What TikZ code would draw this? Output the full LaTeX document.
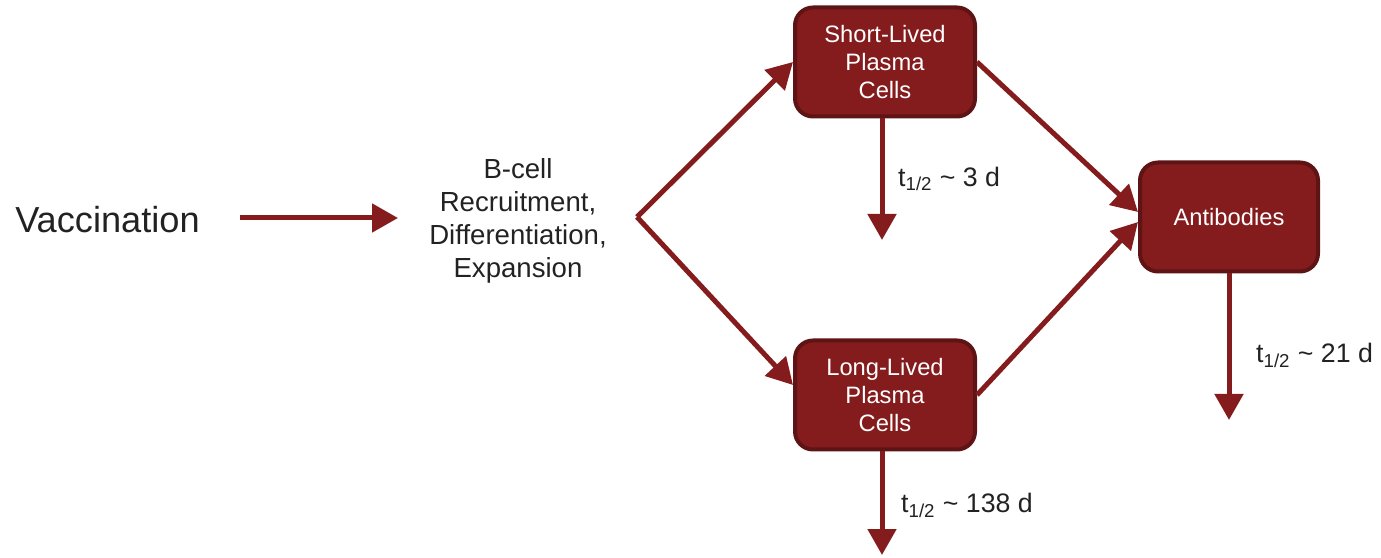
\documentclass[tikz,border=0pt]{standalone}
\usepackage{xcolor}
\usepackage{fontspec}
\setmainfont{Liberation Sans}
\usepackage{tikz}
\usetikzlibrary{arrows.meta,positioning,calc}
\definecolor{plasmared}{HTML}{841C1E}
\definecolor{plasmadark}{HTML}{5E1415}
\definecolor{labelgray}{HTML}{222222}

\begin{document}
\begin{tikzpicture}[
  cellbox/.style={draw=plasmadark,fill=plasmared,line width=0.08cm,rounded corners=0.36cm,minimum width=3.6cm,minimum height=2.18cm,align=center,text=white,font=\fontsize{13.5}{16.2}\selectfont},
  plain/.style={align=center,text=labelgray,font=\fontsize{15.7}{18.7}\selectfont},
  halflife/.style={anchor=west,text=labelgray,font=\fontsize{15.2}{18}\selectfont},
  arrow/.style={-{Triangle[length=0.52cm,width=0.56cm]},line width=0.1cm,color=plasmared}
]
\useasboundingbox (0,0) rectangle (27.62,11.14);

\node[plain,font=\fontsize{20.6}{24}\selectfont] (vacc) at (2.15,6.74) {Vaccination};
\node[plain] (bcell) at (10.36,6.72) {B-cell\\Recruitment,\\Differentiation,\\Expansion};
\coordinate (vstart) at (4.8,6.78);
\coordinate (vend) at (7.96,6.78);
\coordinate (split) at (12.74,6.8);

\node[cellbox] (slpc) at (17.7,9.9) {Short-Lived\\Plasma\\Cells};
\node[cellbox] (llpc) at (17.7,3.24) {Long-Lived\\Plasma\\Cells};
\node[cellbox,minimum width=3.56cm] (ab) at (24.58,6.8) {Antibodies};

% decay ends
\coordinate (sldecay) at (17.64,6.34);
\coordinate (lldecay) at (17.64,0.04);
\coordinate (abdecay) at (24.58,2.74);

\draw[arrow] (vstart) -- (vend);
\draw[arrow] (split) -- (slpc.west);
\draw[arrow] (split) -- ([yshift=0.2cm]llpc.west);
\draw[arrow] (slpc.east) -- ([yshift=0.1cm]ab.west);
\draw[arrow] (llpc.east) -- ([yshift=-0.1cm]ab.west);

\draw[arrow] (slpc.south -| sldecay) -- (sldecay);
\draw[arrow] (llpc.south -| lldecay) -- (lldecay);
\draw[arrow] (ab.south) -- (abdecay);

\node[halflife] (slhalf) at (17.84,7.56) {t\textsubscript{1/2} \textasciitilde{} 3 d};
\node[halflife] (llhalf) at (17.9,1.04) {t\textsubscript{1/2} \textasciitilde{} 138 d};
\node[halflife] (abhalf) at (25.0,4.04) {t\textsubscript{1/2} \textasciitilde{} 21 d};
\end{tikzpicture}
\end{document}
